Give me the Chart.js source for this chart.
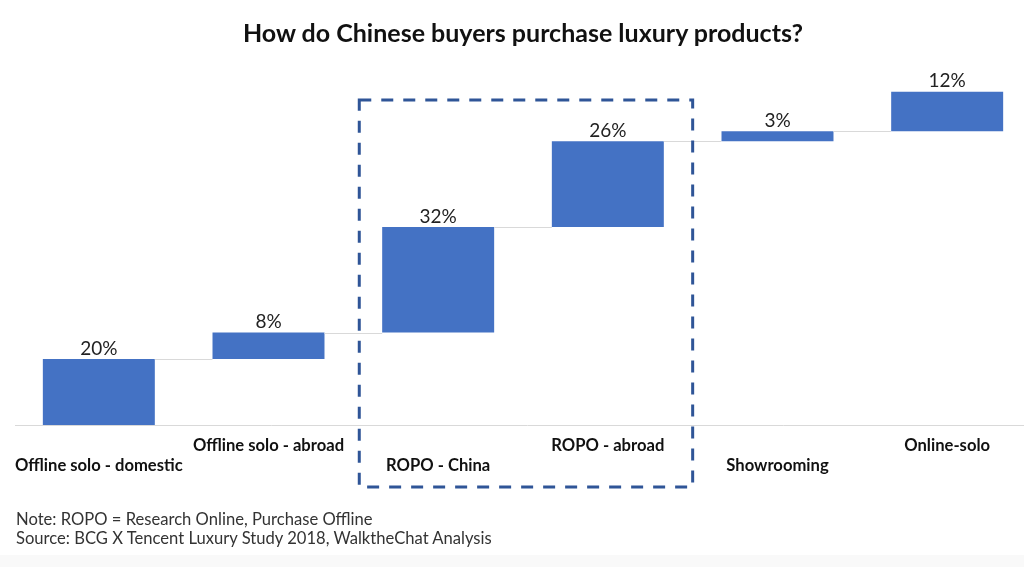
<!DOCTYPE html>
<html>
<head>
<meta charset="utf-8">
<script src="https://cdn.jsdelivr.net/npm/chart.js@4"></script>
<style>
  html, body { margin: 0; padding: 0; background: #fff; overflow: hidden; }
  body { width: 1024px; height: 567px; position: relative; font-family: Lato, sans-serif; }
  #title { position: absolute; top: 14px; left: 0; width: 1046px; text-align: center; font-weight: 700; font-size: 25px; line-height: 36px; color: #111; }
  #wrap { position: absolute; left: 0; top: 0; width: 1040px; height: 567px; }
  .note { position: absolute; left: 16px; font-size: 16.6px; line-height: 20px; color: #333; }
  #foot { position: absolute; left: 0; top: 555px; width: 1024px; height: 12px; background: #f9f9f9; }
</style>
</head>
<body>
<div id="wrap"><canvas id="chart" width="1040" height="567"></canvas></div>
<div id="title">How do Chinese buyers purchase luxury products?</div>
<div class="note" style="top:509px">Note: ROPO = Research Online, Purchase Offline</div>
<div class="note" style="top:528px">Source: BCG X Tencent Luxury Study 2018, WalktheChat Analysis</div>
<div id="foot"></div>
<script>
const categories = ['Offline solo - domestic', 'Offline solo - abroad', 'ROPO - China', 'ROPO - abroad', 'Showrooming', 'Online-solo'];
const shares = [20, 8, 32, 26, 3, 12];
const valueLabels = ['20%', '8%', '32%', '26%', '3%', '12%'];

// Floating bars: each step starts where the previous one ended
const steps = [];
let running = 0;
shares.forEach(v => {
    steps.push([running, running + v]);
    running += v;
});

const colors = {
    bar: '#4472c4',
    connector: '#d9d9d9',
    box: '#2f5597',
    text: '#222222'
};

const waterfallDecor = {
    id: 'waterfallDecor',
    afterDatasetsDraw(chart) {
        const ctx = chart.ctx;
        const area = chart.chartArea;
        const x = chart.scales.x;
        const y = chart.scales.y;
        const meta = chart.getDatasetMeta(0);

        ctx.save();
        // baseline
        ctx.strokeStyle = colors.connector;
        ctx.lineWidth = 1;
        ctx.beginPath();
        ctx.moveTo(area.left + 1, Math.round(y.getPixelForValue(0)) + 0.5);
        ctx.lineTo(chart.width, Math.round(y.getPixelForValue(0)) + 0.5);
        ctx.stroke();

        // connectors between bars
        for (let i = 0; i < meta.data.length - 1; i++) {
            const a = meta.data[i], b = meta.data[i + 1];
            const yy = Math.round(y.getPixelForValue(steps[i][1])) + 0.5;
            ctx.beginPath();
            ctx.moveTo(a.x + a.width / 2, yy);
            ctx.lineTo(b.x - b.width / 2, yy);
            ctx.stroke();
        }

        // value labels above bars
        ctx.fillStyle = colors.text;
        ctx.font = '19px Lato';
        ctx.textAlign = 'center';
        ctx.textBaseline = 'bottom';
        meta.data.forEach((bar, i) => {
            ctx.fillText(valueLabels[i], bar.x, y.getPixelForValue(steps[i][1]) - 1);
        });

        // category labels, alternating rows
        ctx.font = 'bold 16.6px Lato';
        ctx.textBaseline = 'middle';
        ctx.fillStyle = '#111';
        categories.forEach((c, i) => {
            const yy = area.bottom + (i % 2 === 0 ? 41 : 21);
            ctx.fillText(c, x.getPixelForValue(i), yy);
        });

        // dashed box around the ROPO bars
        const step = x.getPixelForValue(1) - x.getPixelForValue(0);
        const left = x.getPixelForValue(2) - step * 0.465;
        const right = x.getPixelForValue(3) + step * 0.5;
        const top = y.getPixelForValue(98.5);
        const bottom = area.bottom + 62;
        ctx.strokeStyle = colors.box;
        ctx.lineWidth = 3;
        ctx.setLineDash([12, 10]);
        ctx.strokeRect(left, top, right - left, bottom - top);
        ctx.restore();
    }
};

new Chart(document.getElementById('chart'), {
    type: 'bar',
    data: {
        labels: categories,
        datasets: [{
            data: steps,
            backgroundColor: colors.bar,
            borderWidth: 0,
            categoryPercentage: 1,
            barPercentage: 0.66
        }]
    },
    options: {
        responsive: false,
        animation: false,
        layout: { padding: { left: 14, right: 8, top: 60, bottom: 142 } },
        plugins: { legend: { display: false }, tooltip: { enabled: false } },
        scales: {
            x: { display: false },
            y: { display: false, min: 0, max: 110.6 }
        }
    },
    plugins: [waterfallDecor]
});
</script>
</body>
</html>
